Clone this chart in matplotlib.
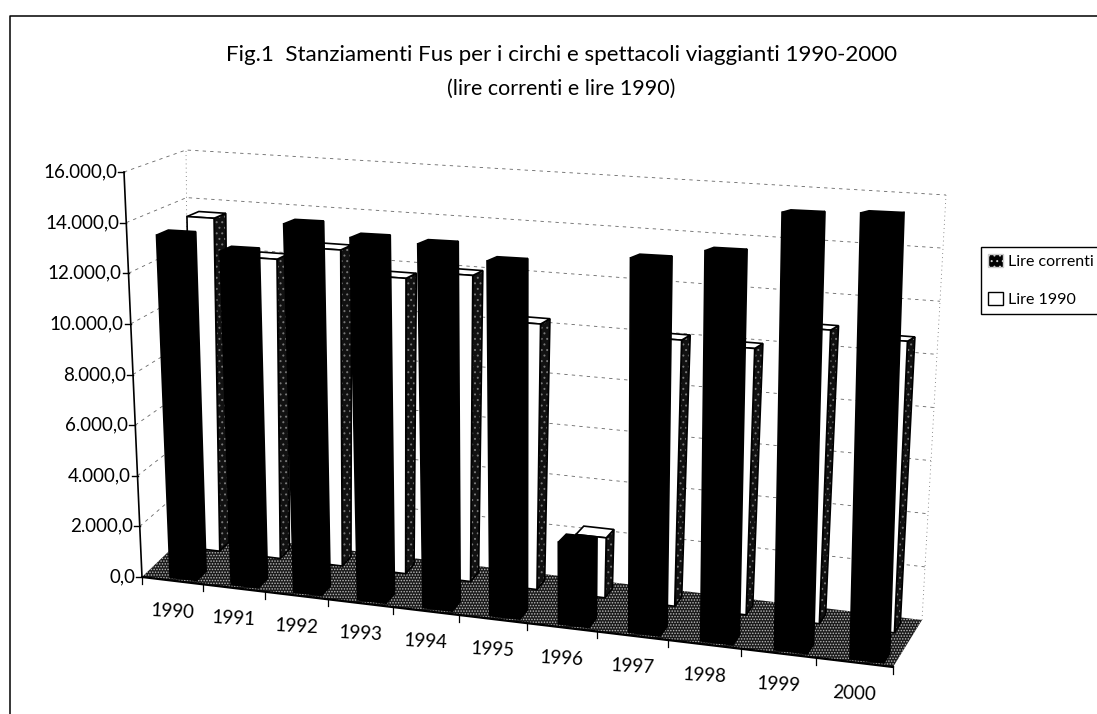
import numpy as np
import matplotlib
matplotlib.use('Agg')
import matplotlib.pyplot as plt
from matplotlib.patches import Polygon, Patch

plt.rcParams['font.family'] = ['Lato', 'DejaVu Sans']
plt.rcParams['hatch.linewidth'] = 0.7

years = ['1990', '1991', '1992', '1993', '1994', '1995', '1996', '1997', '1998', '1999', '2000']
lire_correnti = [13500, 13000, 14200, 13800, 13700, 13200, 3000, 13600, 14000, 15500, 15600]
lire_1990 = [13600, 12100, 12650, 11700, 12000, 10300, 2300, 10100, 10000, 10900, 10700]
value_ticks = [0, 2000, 4000, 6000, 8000, 10000, 12000, 14000, 16000]
value_labels = ['0,0', '2.000,0', '4.000,0', '6.000,0', '8.000,0', '10.000,0', '12.000,0', '14.000,0', '16.000,0']

# Pixel corners of the 3D box: [left/right][front/back][floor/top]
corners = np.array([[[(142, 577), (124, 172)], [(190, 531), (186, 150)]],
                    [[(893, 667), (905, 204)], [(922, 620), (946, 195)]]], dtype=float)
n_cat = 11
v_max = 16000
k = 0.14   # categories get wider towards the viewer


def proj(u, d, v):
    s = u / n_cat
    t = s / (1 + k * (1 - s))
    h = v / v_max
    low = (1 - t) * ((1 - d) * corners[0, 0, 0] + d * corners[0, 1, 0]) + t * ((1 - d) * corners[1, 0, 0] + d * corners[1, 1, 0])
    high = (1 - t) * ((1 - d) * corners[0, 0, 1] + d * corners[0, 1, 1]) + t * ((1 - d) * corners[1, 0, 1] + d * corners[1, 1, 1])
    return tuple((1 - h) * low + h * high)


fig = plt.figure(figsize=(10.97, 7.14), dpi=100)
ax = fig.add_axes([0, 0, 1, 1])
ax.set_xlim(0, 1097)
ax.set_ylim(714, 0)
ax.axis('off')

# chart frame
ax.plot([10, 10, 1097], [714, 16, 16], color='black', lw=1.1)

# floor
floor = [proj(0, 0, 0), proj(n_cat, 0, 0), proj(n_cat, 1, 0), proj(0, 1, 0)]
ax.add_patch(Polygon(floor, facecolor='#1a1a1a', edgecolor='#bbbbbb', hatch='......', lw=0, zorder=1))

# gridlines on side wall and back wall
for v in value_ticks[1:]:
    pts = [proj(0, 0, v), proj(0, 1, v), proj(n_cat, 1, v)]
    ax.plot([p[0] for p in pts], [p[1] for p in pts], color='#666666', lw=0.6, ls=(0, (4, 5)), zorder=1)
for u in (0, n_cat):
    a = proj(u, 1, 0)
    b = proj(u, 1, v_max)
    ax.plot([a[0], b[0]], [a[1], b[1]], color='#666666', lw=0.6, ls=(0, (1, 4)), zorder=1)


def draw_bar(i, val, left, width, d0, d1, front, side, top, z, speckle=False):
    u0 = i + left
    u1 = u0 + width
    side_face = [proj(u1, d0, 0), proj(u1, d1, 0), proj(u1, d1, val), proj(u1, d0, val)]
    front_face = [proj(u0, d0, 0), proj(u1, d0, 0), proj(u1, d0, val), proj(u0, d0, val)]
    top_face = [proj(u0, d0, val), proj(u1, d0, val), proj(u1, d1, val), proj(u0, d1, val)]
    if speckle:
        ax.add_patch(Polygon(side_face, facecolor=side, edgecolor='#777777', hatch='...', lw=0, zorder=z))
    ax.add_patch(Polygon(side_face, facecolor='none' if speckle else side, edgecolor='black', lw=1.2, zorder=z))
    ax.add_patch(Polygon(top_face, facecolor=top, edgecolor='black', lw=1.2, zorder=z))
    ax.add_patch(Polygon(front_face, facecolor=front, edgecolor='black', lw=1.2, zorder=z))


for i, val in enumerate(lire_1990):
    draw_bar(i, val, 0.32, 0.44, 0.68, 0.88, 'white', '#111111', 'white', 2 + i * 0.01, speckle=True)
for i, val in enumerate(lire_correnti):
    draw_bar(i, val, 0.42, 0.44, 0.06, 0.26, 'black', 'black', 'black', 3 + i * 0.01)

# value axis
a = proj(0, 0, 0)
b = proj(0, 0, v_max)
ax.plot([a[0], b[0]], [a[1], b[1]], color='black', lw=1.2, zorder=4)
for v, lab in zip(value_ticks, value_labels):
    x, y = proj(0, 0, v)
    ax.plot([x - 6, x], [y, y], color='black', lw=1.0, zorder=4)
    ax.text(x - 7, y, lab, ha='right', va='center', fontsize=13.5, color='black')

# category axis
a = proj(0, 0, 0)
b = proj(n_cat, 0, 0)
ax.plot([a[0], b[0]], [a[1], b[1]], color='black', lw=1.6, zorder=4)
for i in range(len(years) + 1):
    x, y = proj(i, 0, 0)
    ax.plot([x, x], [y, y + 7], color='black', lw=0.9, zorder=4)
for i, lab in enumerate(years):
    x, y = proj(i + 0.5, 0, 0)
    ax.text(x, y + 31, lab, ha='center', va='center', fontsize=13.5, rotation=-3, color='black')

ax.text(561, 55, 'Fig.1  Stanziamenti Fus per i circhi e spettacoli viaggianti 1990-2000',
        ha='center', va='center', fontsize=16.1, color='black')
ax.text(561, 89, '(lire correnti e lire 1990)', ha='center', va='center', fontsize=15.4, color='black')

handles = [Patch(facecolor='black', edgecolor='#cccccc', hatch='...'), Patch(facecolor='white', edgecolor='black')]
leg = ax.legend(handles, ['Lire correnti', 'Lire 1990'], loc='upper left', bbox_to_anchor=(981 / 1097, 1 - 247 / 714),
                bbox_transform=fig.transFigure, fontsize=11.5, frameon=True, fancybox=False, edgecolor='black',
                framealpha=1, borderaxespad=0, handlelength=0.9, handleheight=0.9, handletextpad=0.35,
                labelspacing=1.4, borderpad=0.45)

fig.savefig('out.png', dpi=100)
